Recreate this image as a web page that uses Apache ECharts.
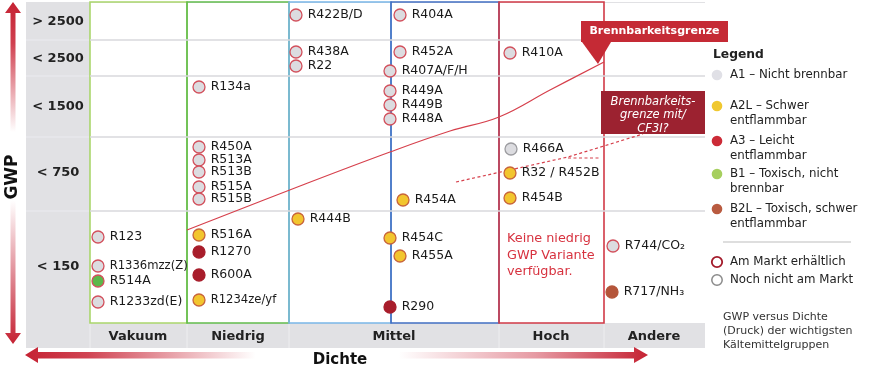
<!DOCTYPE html>
<html><head><meta charset="utf-8">
<script src="https://cdn.jsdelivr.net/npm/echarts@6/dist/echarts.min.js"></script>
<style>html,body{margin:0;padding:0;background:#fff}#c{width:872px;height:367px}</style>
</head><body><div id="c"></div>
<script>
// ---------- data (axis units: x = density layout units, y = GWP layout units) ----------
const colNames = ['Vakuum', 'Niedrig', 'Mittel', 'Hoch', 'Andere'];
const colCenters = [48, 148, 304, 461, 564];
const boxBounds = [0, 97, 199, 301, 409, 514];      // coloured column boxes (Mittel split in two)
const rowNames = ['< 150', '< 750', '< 1500', '< 2500', '> 2500'];
const rowCenters = [56, 150, 216, 264.5, 301.5];
const rowBounds = [0, 112, 186, 247, 283, 321];

const refNames = ['R123','R1336mzz(Z)','R514A','R1233zd(E)',
  'R134a','R450A','R513A','R513B','R515A','R515B','R516A','R1270','R600A','R1234ze/yf',
  'R422B/D','R438A','R22','R444B',
  'R404A','R452A','R407A/F/H','R449A','R449B','R448A','R454A','R454C','R455A','R290',
  'R410A','R466A','R32 / R452B','R454B',
  'R744/CO\u2082','R717/NH\u2083'];
const refX = [8,8,8,8, 109,109,109,109,109,109,109,109,109,109, 206,206,206,208,
  310,310,300,300,300,300,313,300,310,300, 420,421,420,420, 523,522];
const refY = [86,57,42,21, 236,176,163,151,136,124,88,71,48,23, 308,271,257,104,
  308,271,252,232,218,204,123,85,67,16, 270,174,150,125, 77,31];
const refClass = ['A1','A1','B1','A1', 'A1','A1','A1','A1','A1','A1','A2L','A3','A3','A2L',
  'A1','A1','A1','A2L', 'A1','A1','A1','A1','A1','A1','A2L','A2L','A2L','A3',
  'A1','A1','A2L','A2L', 'A1','B2L'];
const refMarket = [1,1,1,1, 1,1,1,1,1,1,1,1,1,1, 1,1,1,1, 1,1,1,1,1,1,1,1,1,1, 1,0,1,1, 1,1];

const limitX = [97, 210, 300, 360, 409, 460, 514];
const limitY = [93, 137, 171, 192, 206, 233, 261];
const cf3iX = [366, 478, 553];
const cf3iY = [141, 166, 189];
const cf3iBranchX = [478, 510];
const cf3iBranchY = [165, 165];

const classes = ['A1', 'A2L', 'A3', 'B1', 'B2L'];
const legendLines = [['A1 \u2013 Nicht brennbar'], ['A2L \u2013 Schwer', 'entflammbar'],
  ['A3 \u2013 Leicht', 'entflammbar'], ['B1 \u2013 Toxisch, nicht', 'brennbar'],
  ['B2L \u2013 Toxisch, schwer', 'entflammbar']];
const marketLabels = ['Am Markt erh\u00e4ltlich', 'Noch nicht am Markt'];
const noteLines = ['GWP versus Dichte', '(Druck) der wichtigsten', 'K\u00e4ltemittelgruppen'];
const limitTitle = 'Brennbarkeitsgrenze';
const cf3iTitle = ['Brennbarkeits-', 'grenze mit/', 'CF3I?'];
const hochNote = ['Keine niedrig', 'GWP Variante', 'verf\u00fcgbar.'];

// ---------- styles ----------
const FONT = 'DejaVu Sans';
const fill = {A1:'#dcdce0', A2L:'#f2c52e', A3:'#a81d2b', B1:'#5cb84a', B2L:'#b4553a'};
const edge = {A1:'#d2505c', A2L:'#c8643a', A3:'#a81d2b', B1:'#d2505c', B2L:'#b4553a'};
const legendFill = ['#e0e0e6', '#f0c830', '#cc2b37', '#a6cf5e', '#b95b40'];
const boxColors = ['#aad66c', '#62bc4c', '#7ab6e8', '#416fc2', '#d13a47'];
const narrow = new Set(['R1336mzz(Z)', 'R1234ze/yf']);

const chart = echarts.init(document.getElementById('c'));

const scatterSeries = classes.map(c => ({
  type: 'scatter', name: c, z: 10, symbol: 'circle', symbolSize: 12,
  itemStyle: { opacity: 1 },
  data: refNames.map((n, i) => i).filter(i => refClass[i] === c).map(i => ({
    name: refNames[i], value: [refX[i], refY[i]],
    itemStyle: { color: fill[c], opacity: 1, borderColor: refMarket[i] ? edge[c] : '#9c9ca0', borderWidth: 1.3 },
    label: narrow.has(refNames[i]) ? { fontSize: 11.6 } : undefined
  })),
  label: { show: true, position: 'right', distance: 5, formatter: '{b}',
    fontFamily: FONT, fontSize: 12.5, color: '#1a1a1a', opacity: 1 },
  emphasis: { disabled: true }
}));

const G = [];
// grey frame
G.push({type:'rect', z:-20, shape:{x:26,y:2,width:679,height:346}, style:{fill:'#e1e1e4'}});
G.push({type:'rect', z:-19, shape:{x:90,y:3,width:615,height:320}, style:{fill:'#ffffff'}});
// separators in header column / row
[40, 76, 137, 211].forEach(y => G.push({type:'line', z:-18, shape:{x1:26,y1:y,x2:90,y2:y}, style:{stroke:'#ececef',lineWidth:1.2}}));
[90, 187, 289, 499, 604].forEach(x => G.push({type:'line', z:-18, shape:{x1:x,y1:323,x2:x,y2:348}, style:{stroke:'#ececef',lineWidth:1.2}}));
// arrows
G.push({type:'polygon', z:-5, shape:{points:[[13,2],[21,13],[15.5,13],[15.5,333],[21,333],[13,344],[5,333],[10.5,333],[10.5,13],[5,13]]},
  style:{fill:{type:'linear',x:0,y:0,x2:0,y2:1,colorStops:[
    {offset:0,color:'#c52233'},{offset:0.12,color:'#d0404f'},{offset:0.38,color:'#ffffff'},
    {offset:0.58,color:'#ffffff'},{offset:0.8,color:'#e08a94'},{offset:1,color:'#c52233'}]}}});
G.push({type:'polygon', z:-5, shape:{points:[[25,355],[38,347],[38,352],[634,352],[634,347],[648,355],[634,363],[634,358.5],[38,358.5],[38,363]]},
  style:{fill:{type:'linear',x:0,y:0,x2:1,y2:0,colorStops:[
    {offset:0,color:'#c52233'},{offset:0.1,color:'#d04352'},{offset:0.37,color:'#ffffff'},
    {offset:0.6,color:'#ffffff'},{offset:0.82,color:'#e69aa3'},{offset:1,color:'#c52233'}]}}});
G.push({type:'text', z:5, x:13, y:177, rotation:Math.PI/2,
  style:{text:'GWP', fontFamily:FONT, fontWeight:'bold', fontSize:17, fill:'#111', align:'center', verticalAlign:'middle'}});
G.push({type:'text', z:5, x:340, y:360,
  style:{text:'Dichte', fontFamily:FONT, fontWeight:'bold', fontSize:15, fill:'#111', align:'center', verticalAlign:'middle'}});
// callout 1
G.push({type:'polygon', z:100, shape:{points:[[582,42],[611,42],[598,64]]}, style:{fill:'#c52a35'}});
G.push({type:'rect', z:100, shape:{x:581,y:21,width:147,height:21}, style:{fill:'#c52a35'}});
G.push({type:'text', z:101, x:654.5, y:31.5, style:{text:limitTitle, fontFamily:FONT, fontWeight:'bold', fontSize:11, fill:'#fff', align:'center', verticalAlign:'middle'}});
// callout 2
G.push({type:'rect', z:100, shape:{x:601,y:91,width:104,height:43}, style:{fill:'#9c2230'}});
cf3iTitle.forEach((t, i) => G.push({type:'text', z:101, x:653, y:102 + i*13.5,
  style:{text:t, fontFamily:FONT, fontStyle:'italic', fontSize:11.5, fill:'#fff', align:'center', verticalAlign:'middle'}}));
// note in Hoch column
hochNote.forEach((t, i) => G.push({type:'text', z:20, x:507, y:239 + i*16.5,
  style:{text:t, fontFamily:FONT, fontSize:12.8, fill:'#d7323f', align:'left', verticalAlign:'middle'}}));
// legend
G.push({type:'text', z:20, x:713, y:55, style:{text:'Legend', fontFamily:FONT, fontWeight:'bold', fontSize:12.3, fill:'#222', align:'left', verticalAlign:'middle'}});
const legY = [75, 106, 141, 174, 209];
legendLines.forEach((lines, k) => {
  G.push({type:'circle', z:20, shape:{cx:717, cy:legY[k], r:5.3}, style:{fill:legendFill[k]}});
  lines.forEach((t, j) => G.push({type:'text', z:20, x:730, y:legY[k] + j*14.5,
    style:{text:t, fontFamily:FONT, fontSize:11.8, fill:'#222', align:'left', verticalAlign:'middle'}}));
});
G.push({type:'line', z:20, shape:{x1:723,y1:242,x2:851,y2:242}, style:{stroke:'#bdbdbd', lineWidth:1}});
G.push({type:'circle', z:20, shape:{cx:717, cy:262, r:5.2}, style:{fill:'#fff', stroke:'#a31a2a', lineWidth:1.8}});
G.push({type:'circle', z:20, shape:{cx:717, cy:280, r:5.2}, style:{fill:'#fff', stroke:'#8a8a8a', lineWidth:1.5}});
marketLabels.forEach((t, j) => G.push({type:'text', z:20, x:730, y:262 + j*18,
  style:{text:t, fontFamily:FONT, fontSize:11.8, fill:'#222', align:'left', verticalAlign:'middle'}}));
noteLines.forEach((t, j) => G.push({type:'text', z:20, x:723, y:317 + j*14,
  style:{text:t, fontFamily:FONT, fontSize:11, fill:'#333', align:'left', verticalAlign:'middle'}}));

const option = {
  animation: false,
  backgroundColor: '#ffffff',
  grid: { left: 90, top: 2, width: 615, height: 321, containLabel: false, outerBoundsMode: 'none' },
  xAxis: {
    type: 'value', min: 0, max: 615,
    axisLine: {show:false}, axisTick: {show:false}, splitLine: {show:false},
    axisLabel: { customValues: colCenters, formatter: v => colNames[colCenters.indexOf(v)] || '',
      margin: 7, fontFamily: FONT, fontWeight: 'bold', fontSize: 13, color: '#222' }
  },
  yAxis: {
    type: 'value', min: 0, max: 321,
    axisLine: {show:false}, axisTick: {show:false}, splitLine: {show:false},
    axisLabel: { customValues: rowCenters, formatter: v => rowNames[rowCenters.indexOf(v)] || '',
      margin: 32, align: 'center', fontFamily: FONT, fontWeight: 'bold', fontSize: 13, color: '#222' }
  },
  graphic: { elements: G },
  series: [
    { type: 'scatter', name: 'rows', data: [], z: 1, silent: true,
      markLine: { silent: true, symbol: ['none','none'], animation: false, label: {show:false},
        lineStyle: { color: '#d9d9dd', width: 1.5, type: 'solid' },
        emphasis: { disabled: true },
        data: rowBounds.slice(1, -1).map(v => ({ yAxis: v })) } },
    { type: 'scatter', name: 'boxes', data: [], z: 2, silent: true,
      markArea: { silent: true, animation: false, label: {show:false},
        emphasis: { disabled: true },
        data: boxColors.map((c, i) => [
          { xAxis: boxBounds[i], yAxis: rowBounds[0],
            itemStyle: { color: 'rgba(0,0,0,0)', borderColor: c, borderWidth: 1.6 } },
          { xAxis: boxBounds[i + 1], yAxis: rowBounds[rowBounds.length - 1] }]) } },
    { type: 'line', name: 'Brennbarkeitsgrenze', z: 5, smooth: 0.4, showSymbol: false, silent: true,
      data: limitX.map((x, i) => [x, limitY[i]]),
      lineStyle: { color: '#d6404c', width: 1.2 } },
    { type: 'line', name: 'CF3I', z: 5, smooth: false, showSymbol: false, silent: true,
      data: cf3iX.map((x, i) => [x, cf3iY[i]]),
      lineStyle: { color: '#d6404c', width: 1.2, type: [3, 2.5] } },
    { type: 'line', name: 'CF3I-b', z: 5, smooth: false, showSymbol: false, silent: true,
      data: cf3iBranchX.map((x, i) => [x, cf3iBranchY[i]]),
      lineStyle: { color: '#d6404c', width: 1.2, type: [3, 2.5] } },
    ...scatterSeries
  ]
};
chart.setOption(option);
</script></body></html>
